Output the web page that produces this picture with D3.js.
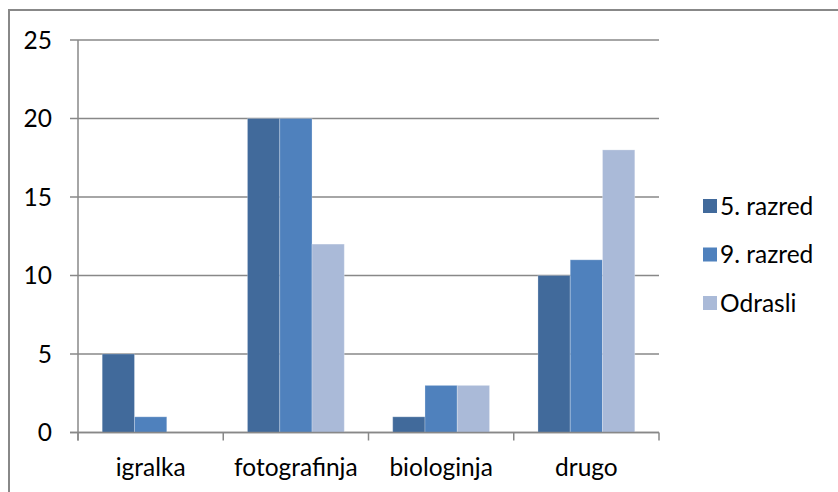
<!DOCTYPE html>
<html><head><meta charset="utf-8">
<script src="https://cdn.jsdelivr.net/npm/d3@7"></script>
<style>body{margin:0;background:#fff}svg{display:block}text{font-family:Lato,"Open Sans",sans-serif;fill:#000}</style>
</head><body>
<svg id="c" width="838" height="492"></svg>
<script>
const categories = ["igralka","fotografinja","biologinja","drugo"];
const seriesNames = ["5. razred","9. razred","Odrasli"];
const s5 = [5,20,1,10];
const s9 = [1,20,3,11];
const sOd = [0,12,3,18];
const yTicks = [0,5,10,15,20,25];
const colors = ["#416A9B","#4F81BD","#AABAD8"];
const seriesVals = [s5,s9,sOd];

const svg = d3.select("#c");
const L=78,R=659,T=40,B=432.5;
const FS="24.5px";
svg.append("rect").attr("x",9).attr("y",10).attr("width",840).attr("height",500)
  .attr("fill","none").attr("stroke","#888").attr("stroke-width",2);

// Excel gap 150%: bar width = step/(3+1.5)
const x = d3.scaleBand().domain(categories).range([L,R]);
const step=x.step();
const bw=step/4.5;
const xi = d3.scaleBand().domain(seriesNames).range([0.75*bw,3.75*bw]);
const y = d3.scaleLinear().domain([0,25]).range([B,T]);

// gridlines
svg.append("g").selectAll("line").data(yTicks).join("line")
  .attr("x1",L-8).attr("x2",R).attr("y1",d=>y(d)).attr("y2",d=>y(d))
  .attr("stroke","#888").attr("stroke-width",1.5);
svg.append("g").selectAll("text").data(yTicks).join("text")
  .attr("x",52).attr("y",d=>y(d)).attr("dy","0.36em").attr("text-anchor","end")
  .style("font-size",FS).text(d=>d);

// bars
seriesVals.forEach((vals,si)=>{
  svg.append("g").selectAll("rect").data(vals.map((v,i)=>({v,c:categories[i]}))).join("rect")
    .attr("x",d=>x(d.c)+xi(seriesNames[si]))
    .attr("width",bw)
    .attr("y",d=>y(d.v)).attr("height",d=>B-y(d.v))
    .attr("fill",colors[si]).attr("stroke",d=>d.v>0?"rgba(255,255,255,0.25)":"none").attr("stroke-width",1);
});

// axes lines
svg.append("line").attr("x1",L).attr("x2",L).attr("y1",T).attr("y2",B+8).attr("stroke","#888").attr("stroke-width",1.5);
svg.append("line").attr("x1",L-8).attr("x2",R).attr("y1",B).attr("y2",B).attr("stroke","#888").attr("stroke-width",1.5);
const cticks = categories.map(c=>x(c)).concat([R]);
svg.append("g").selectAll("line").data(cticks).join("line")
  .attr("x1",d=>d).attr("x2",d=>d).attr("y1",B).attr("y2",B+8).attr("stroke","#888").attr("stroke-width",1.5);
svg.append("g").selectAll("text").data(categories).join("text")
  .attr("x",d=>x(d)+step/2).attr("y",467).attr("dy","0.36em").attr("text-anchor","middle")
  .style("font-size",FS).text(d=>d);

// legend
const lg = svg.append("g");
seriesNames.forEach((n,i)=>{
  const cy=206+i*48.5;
  lg.append("rect").attr("x",703).attr("y",cy-7).attr("width",14).attr("height",14).attr("fill",colors[i]);
  lg.append("text").attr("x",720).attr("y",cy).attr("dy","0.36em").style("font-size",FS).text(n);
});
</script>
</body></html>
